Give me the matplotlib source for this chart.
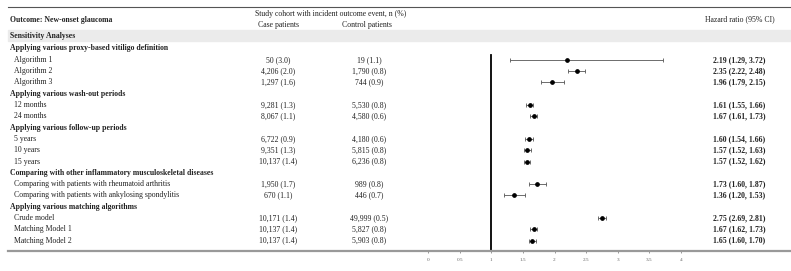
import matplotlib.pyplot as plt
import matplotlib.transforms as mtransforms
from matplotlib.lines import Line2D
from matplotlib.patches import Rectangle

plt.rcParams["font.family"] = ["Liberation Serif", "DejaVu Serif"]

# データ
row_labels = [
    "Applying various proxy-based vitiligo definition",
    "Algorithm 1", "Algorithm 2", "Algorithm 3",
    "Applying various wash-out periods",
    "12 months", "24 months",
    "Applying various follow-up periods",
    "5 years", "10 years", "15 years",
    "Comparing with other inflammatory musculoskeletal diseases",
    "Comparing with patients with rheumatoid arthritis",
    "Comparing with patients with ankylosing spondylitis",
    "Applying various matching algorithms",
    "Crude model", "Matching Model 1", "Matching Model 2",
]
is_heading = [True, False, False, False, True, False, False, True, False, False, False,
              True, False, False, True, False, False, False]
case_n = ["", "50 (3.0)", "4,206 (2.0)", "1,297 (1.6)", "", "9,281 (1.3)", "8,067 (1.1)",
          "", "6,722 (0.9)", "9,351 (1.3)", "10,137 (1.4)", "", "1,950 (1.7)", "670 (1.1)",
          "", "10,171 (1.4)", "10,137 (1.4)", "10,137 (1.4)"]
control_n = ["", "19 (1.1)", "1,790 (0.8)", "744 (0.9)", "", "5,530 (0.8)", "4,580 (0.6)",
             "", "4,180 (0.6)", "5,815 (0.8)", "6,236 (0.8)", "", "989 (0.8)", "446 (0.7)",
             "", "49,999 (0.5)", "5,827 (0.8)", "5,903 (0.8)"]
hr = [None, 2.19, 2.35, 1.96, None, 1.61, 1.67, None, 1.60, 1.57, 1.57, None, 1.73, 1.36,
      None, 2.75, 1.67, 1.65]
ci_low = [None, 1.29, 2.22, 1.79, None, 1.55, 1.61, None, 1.54, 1.52, 1.52, None, 1.60, 1.20,
          None, 2.69, 1.62, 1.60]
ci_high = [None, 3.72, 2.48, 2.15, None, 1.66, 1.73, None, 1.66, 1.63, 1.62, None, 1.87, 1.53,
           None, 2.81, 1.73, 1.70]
x_ticks = [0, 0.5, 1, 1.5, 2, 2.5, 3, 3.5, 4]

W, H = 791, 271
fig = plt.figure(figsize=(W / 100, H / 100), dpi=100)

def fx(px):
    return px / W

def fy(py):
    return 1 - py / H

fs = 5.6
tc = "#222222"

# フォレストプロット用の軸（行位置 = データ座標）
row0_px, step_px = 48.5, 11.3
top_px, bot_px = 30, 250
ax = fig.add_axes([fx(428), fy(bot_px), fx(681) - fx(428), (bot_px - top_px) / H])
ax.set_xlim(0, 4)
ax.set_ylim((bot_px - row0_px) / step_px, (top_px - row0_px) / step_px)
ax.patch.set_alpha(0)
for s in ax.spines.values():
    s.set_visible(False)
ax.set_yticks([])
ax.set_xticks(x_ticks)
ax.set_xticklabels([f"{t:g}" for t in x_ticks])
ax.tick_params(axis="x", length=2, width=0.6, color="#888888", labelsize=3.8,
               labelcolor="#666666", pad=4)

for i, (m, lo, hi) in enumerate(zip(hr, ci_low, ci_high)):
    if m is None:
        continue
    ax.errorbar(m, i, xerr=[[m - lo], [hi - m]], fmt="o", color="black", ms=2.4,
                ecolor="#555555", elinewidth=0.6, capsize=1.5, capthick=0.6)
ax.axvline(1, ymin=0, ymax=(bot_px - 55) / (bot_px - top_px), color="black", lw=1.3)

# 表のテキスト
trans = mtransforms.blended_transform_factory(fig.transFigure, ax.transData)
for i, lab in enumerate(row_labels):
    if is_heading[i]:
        ax.text(fx(10), i, lab, transform=trans, ha="left", va="center", fontsize=fs,
                fontweight="bold", color=tc)
    else:
        ax.text(fx(14), i, lab, transform=trans, ha="left", va="center", fontsize=fs, color=tc)
    if case_n[i]:
        ax.text(fx(278), i, case_n[i], transform=trans, ha="center", va="center",
                fontsize=fs, color=tc)
        ax.text(fx(369), i, control_n[i], transform=trans, ha="center", va="center",
                fontsize=fs, color=tc)
    if hr[i] is not None:
        ax.text(fx(739), i, f"{hr[i]:.2f} ({ci_low[i]:.2f}, {ci_high[i]:.2f})", transform=trans,
                ha="center", va="center", fontsize=fs, fontweight="bold", color=tc)

# ヘッダー
fig.text(fx(10), fy(19.5), "Outcome: New-onset glaucoma", ha="left", va="center",
         fontsize=fs, fontweight="bold", color=tc)
fig.text(fx(255), fy(14), "Study cohort with incident outcome event, n (%)", ha="left",
         va="center", fontsize=fs, color=tc)
fig.text(fx(278), fy(25), "Case patients", ha="center", va="center", fontsize=fs, color=tc)
fig.text(fx(367), fy(25), "Control patients", ha="center", va="center", fontsize=fs, color=tc)
fig.text(fx(740), fy(19.5), "Hazard ratio (95% CI)", ha="center", va="center", fontsize=fs,
         color=tc)

fig.patches.append(Rectangle((fx(8), fy(40.5)), 1 - fx(8), (40.5 - 30) / H,
                             transform=fig.transFigure, color="#ebebeb", zorder=0))
fig.text(fx(10), fy(35.5), "Sensitivity Analyses", ha="left", va="center", fontsize=fs,
         fontweight="bold", color=tc)

fig.lines.append(Line2D([fx(8), 1], [fy(7), fy(7)], transform=fig.transFigure,
                        color="#555555", lw=0.8))
fig.lines.append(Line2D([fx(8), 1], [fy(250.5), fy(250.5)], transform=fig.transFigure,
                        color="#999999", lw=1.6))

plt.savefig("out.png", dpi=100)
